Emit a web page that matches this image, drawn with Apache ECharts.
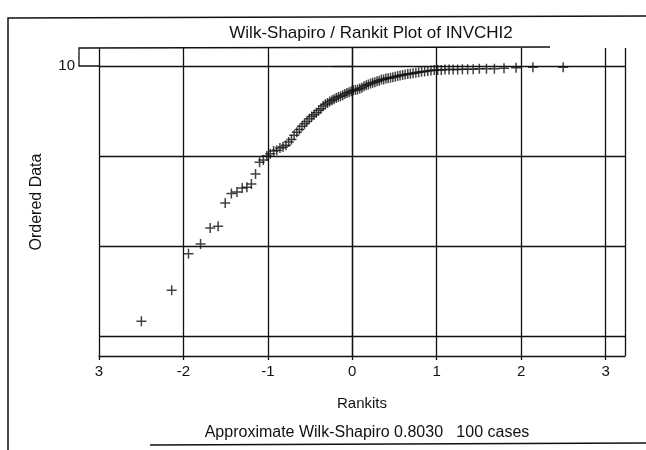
<!DOCTYPE html>
<html>
<head>
<meta charset="utf-8">
<script src="https://cdn.jsdelivr.net/npm/echarts@6/dist/echarts.min.js"></script>
<style>
  html, body { margin: 0; padding: 0; background: #fff; }
  #chart { width: 646px; height: 450px; }
</style>
</head>
<body>
<div id="chart"></div>
<script>
// rankits (expected normal scores) for 100 cases
var rankits = [
  -2.498, -2.139, -1.940, -1.797, -1.683, -1.589, -1.505, -1.432, -1.366, -1.304,
  -1.248, -1.195, -1.146, -1.098, -1.054, -1.012, -0.971, -0.932, -0.894, -0.857,
  -0.821, -0.786, -0.753, -0.720, -0.688, -0.657, -0.626, -0.596, -0.566, -0.537,
  -0.509, -0.480, -0.453, -0.425, -0.398, -0.371, -0.345, -0.319, -0.293, -0.267,
  -0.241, -0.216, -0.190, -0.165, -0.139, -0.113, -0.088, -0.063, -0.038, -0.013,
  0.013, 0.038, 0.063, 0.088, 0.113, 0.139, 0.165, 0.190, 0.216, 0.241,
  0.267, 0.293, 0.319, 0.345, 0.371, 0.398, 0.425, 0.453, 0.480, 0.509,
  0.537, 0.566, 0.596, 0.626, 0.657, 0.688, 0.720, 0.753, 0.786, 0.821,
  0.857, 0.894, 0.932, 0.971, 1.012, 1.054, 1.098, 1.146, 1.195, 1.248,
  1.304, 1.366, 1.432, 1.505, 1.589, 1.683, 1.797, 1.940, 2.139, 2.498
];
// ordered INVCHI2 values
var ordered = [
  4.33, 5.02, 5.83, 6.05, 6.40, 6.44, 6.96, 7.17, 7.20, 7.29,
  7.31, 7.38, 7.60, 7.86, 7.91, 8.00, 8.05, 8.11, 8.13, 8.18,
  8.20, 8.24, 8.31, 8.37, 8.46, 8.53, 8.59, 8.66, 8.72, 8.77,
  8.83, 8.88, 8.92, 8.96, 9.01, 9.05, 9.11, 9.15, 9.18, 9.21,
  9.24, 9.26, 9.29, 9.31, 9.33, 9.35, 9.38, 9.40, 9.42, 9.44,
  9.46, 9.47, 9.48, 9.50, 9.52, 9.55, 9.57, 9.59, 9.61, 9.63,
  9.64, 9.66, 9.67, 9.70, 9.70, 9.72, 9.73, 9.74, 9.75, 9.76,
  9.78, 9.79, 9.80, 9.81, 9.82, 9.83, 9.84, 9.85, 9.86, 9.87,
  9.88, 9.89, 9.90, 9.91, 9.91, 9.91, 9.92, 9.92, 9.92, 9.92,
  9.93, 9.93, 9.93, 9.94, 9.94, 9.94, 9.95, 9.96, 9.97, 9.97
];
var yGridValues = [4, 6, 8, 10];
var yLabelValues = [10];

var ink = "#111";
var font = "'Liberation Sans', Arial, sans-serif";

var points = [];
for (var i = 0; i < rankits.length; i++) {
  points.push([rankits[i], ordered[i]]);
}

var myChart = echarts.init(document.getElementById("chart"));
var option = {
  animation: false,
  backgroundColor: "#fff",
  title: [
    {
      text: "Wilk-Shapiro / Rankit Plot of INVCHI2",
      left: 366, top: 20, textAlign: "center",
      textStyle: { fontFamily: font, fontSize: 17, fontWeight: "normal", color: ink }
    },
    {
      text: "Approximate Wilk-Shapiro 0.8030   100 cases",
      left: 362, top: 420, textAlign: "center",
      textStyle: { fontFamily: font, fontSize: 16, fontWeight: "normal", color: ink }
    }
  ],
  grid: { left: 99, right: 21, top: 48, bottom: 94, show: false },
  xAxis: {
    type: "value",
    min: -3,
    max: 3.23,
    interval: 1,
    name: "Rankits",
    nameLocation: "middle",
    nameGap: 40,
    nameTextStyle: { fontFamily: font, fontSize: 15, color: ink },
    axisLine: { show: true, lineStyle: { color: ink, width: 1.3 } },
    axisTick: { show: true, length: 4, lineStyle: { color: ink, width: 1.3 } },
    axisLabel: {
      showMaxLabel: false,
      margin: 8,
      fontFamily: font, fontSize: 15, color: ink,
      formatter: function (v) { return v === -3 ? "3" : String(v); }
    },
    splitLine: { show: true, lineStyle: { color: ink, width: 1.3 } }
  },
  yAxis: {
    type: "value",
    min: 3.56,
    max: 10.4,
    name: "Ordered Data",
    nameLocation: "middle",
    nameGap: 54,
    nameTextStyle: { fontFamily: font, fontSize: 16, color: ink },
    axisLine: { show: true, lineStyle: { color: ink, width: 1.3 } },
    axisTick: { show: true, length: 20, customValues: yLabelValues, lineStyle: { color: ink, width: 1.3 } },
    axisLabel: { margin: 24, customValues: yLabelValues, fontFamily: font, fontSize: 15, color: ink },
    splitLine: { show: false }
  },
  graphic: [
    { type: "polyline", shape: { points: [[99, 66], [79, 66], [79, 48], [550, 47]] }, style: { stroke: ink, lineWidth: 1.3, fill: null } },
    { type: "polyline", shape: { points: [[8, 450], [8, 18], [646, 16]] }, style: { stroke: ink, lineWidth: 1.5, fill: null } },
    { type: "line", shape: { x1: 150, y1: 445, x2: 646, y2: 443 }, style: { stroke: ink, lineWidth: 1.5 } }
  ],
  series: [
    {
      type: "scatter",
      data: points,
      symbol: "path://M5,0L5,10M0,5L10,5",
      symbolSize: 10,
      itemStyle: { color: "none", borderColor: ink, borderWidth: 1.5 },
      markLine: {
        silent: true,
        symbol: "none",
        label: { show: false },
        lineStyle: { color: ink, width: 1.3, type: "solid" },
        data: yGridValues.map(function (v) { return { yAxis: v }; })
      }
    }
  ]
};
myChart.setOption(option);
</script>
</body>
</html>
